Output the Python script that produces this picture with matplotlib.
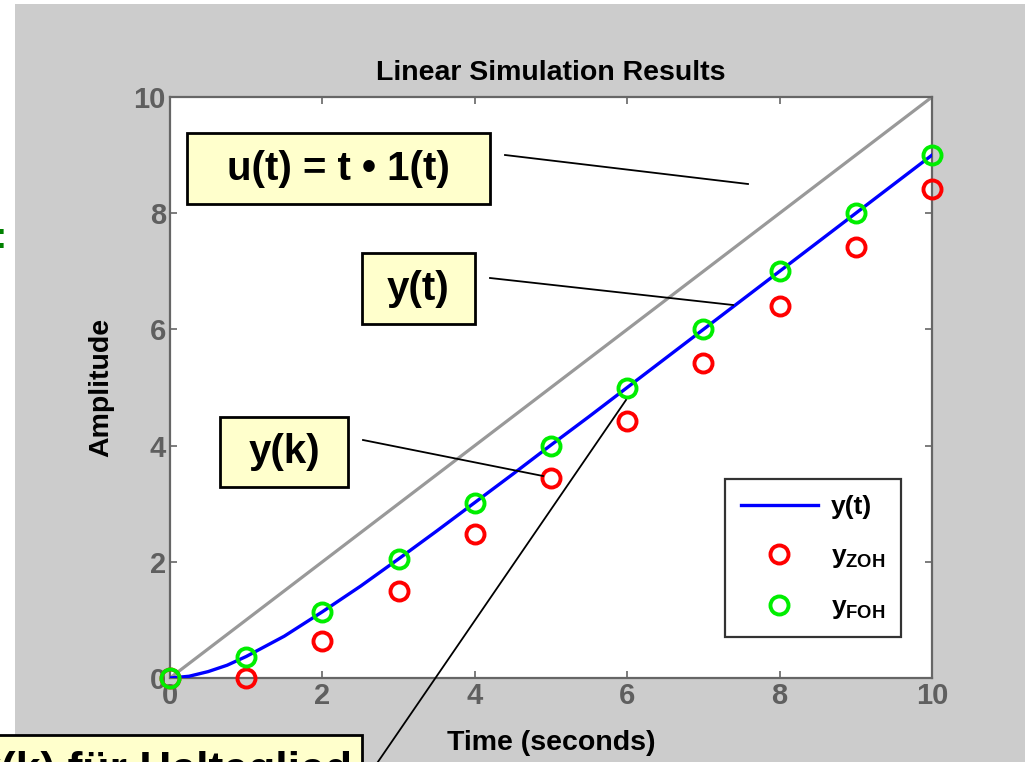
import matplotlib
matplotlib.use("Agg")
import matplotlib.pyplot as plt
from matplotlib.patches import Rectangle

plt.rcParams['font.family'] = ['Liberation Sans', 'DejaVu Sans']
plt.rcParams['font.weight'] = 'bold'
plt.rcParams['mathtext.fontset'] = 'custom'
plt.rcParams['mathtext.rm'] = 'Liberation Sans:bold'
plt.rcParams['mathtext.it'] = 'Liberation Sans:bold'
plt.rcParams['mathtext.bf'] = 'Liberation Sans:bold'

# data
t_cont = [0, 0.25, 0.5, 0.75, 1, 1.5, 2, 2.5, 3, 3.5, 4, 4.5, 5, 5.5, 6, 6.5, 7, 7.5, 8, 8.5, 9, 9.5, 10]
y_cont = [0, 0.03, 0.11, 0.22, 0.37, 0.72, 1.14, 1.58, 2.05, 2.53, 3.02, 3.51, 4.01,
          4.5, 5.0, 5.5, 6.0, 6.5, 7.0, 7.5, 8.0, 8.5, 9.0]
t_u = [0, 1, 2, 3, 4, 5, 6, 7, 8, 9, 10]
u = [0, 1, 2, 3, 4, 5, 6, 7, 8, 9, 10]
k = [0, 1, 2, 3, 4, 5, 6, 7, 8, 9, 10]
y_zoh = [0, 0, 0.64, 1.50, 2.47, 3.44, 4.42, 5.42, 6.41, 7.41, 8.41]
y_foh = [0, 0.37, 1.14, 2.05, 3.02, 4.0, 5.0, 6.0, 7.0, 8.0, 9.0]
ticks = [0, 2, 4, 6, 8, 10]

W, H = 1025, 762
fig = plt.figure(figsize=(W / 100, H / 100), dpi=100, facecolor='white')


def fx(px):
    return px / W


def fy(py):
    return 1 - py / H


# gray slide background
fig.patches.append(Rectangle((fx(15), 0), 1, fy(4), transform=fig.transFigure,
                             fc='#cccccc', ec='none', zorder=-10))

ax = fig.add_axes([fx(170), fy(678), fx(932) - fx(170), fy(97) - fy(678)])
ax.plot(t_u, u, color='#999999', lw=2.3, zorder=2)
ax.plot(t_cont, y_cont, color='#0000ff', lw=2.4, label='y(t)', zorder=3)
ax.plot(k, y_zoh, 'o', ms=13, mfc='none', mec='#ff0000', mew=2.8, label=r'$y_{ZOH}$',
        clip_on=False, zorder=4)
ax.plot(k, y_foh, 'o', ms=13, mfc='none', mec='#00ee00', mew=2.8, label=r'$y_{FOH}$',
        clip_on=False, zorder=5)

ax.set_xlim(0, 10)
ax.set_ylim(0, 10)
ax.set_xticks(ticks)
ax.set_yticks(ticks)
for s in ax.spines.values():
    s.set_color('#666666')
    s.set_linewidth(1.6)
ax.tick_params(direction='in', top=True, right=True, length=5, width=1.2, color='#666666',
               labelcolor='#5f5f5f', labelsize=21, pad=3)
ax.set_title('Linear Simulation Results', fontsize=20.5, fontweight='bold', pad=12)
ax.set_xlabel('Time (seconds)', fontsize=20.5, fontweight='bold', labelpad=14)
ax.set_ylabel('Amplitude', fontsize=20.5, fontweight='bold', labelpad=14)

leg = ax.legend(loc='lower right', bbox_to_anchor=(fx(901), fy(637)),
                bbox_transform=fig.transFigure, fontsize=19, frameon=True,
                fancybox=False, edgecolor='black', handlelength=2.9, borderpad=0.6,
                labelspacing=0.95, handletextpad=0.5, borderaxespad=0)
leg.get_frame().set_linewidth(1.6)


def callout(x0, y0, x1, y1, text, size=29):
    fig.patches.append(Rectangle((fx(x0), fy(y1)), fx(x1) - fx(x0), fy(y0) - fy(y1),
                                 transform=fig.transFigure, fc='#ffffcc', ec='black',
                                 lw=2, zorder=20))
    fig.text(fx((x0 + x1) / 2), fy((y0 + y1) / 2), text, ha='center', va='center',
             fontsize=size, fontweight='bold', zorder=21)


callout(187, 133, 490, 204, 'u(t) = t \u2022 1(t)')
callout(362, 253, 475, 324, 'y(t)')
callout(220, 417, 348, 487, 'y(k)')

# pointer lines (figure pixels, y from the top)
lines = [((505, 155), (748, 184)),
         ((490, 278), (733, 305)),
         ((363, 440), (543, 476)),
         ((371, 772), (626, 400))]
for (xa, ya), (xb, yb) in lines:
    fig.add_artist(plt.Line2D([fx(xa), fx(xb)], [fy(ya), fy(yb)], transform=fig.transFigure,
                              color='black', lw=1.3, zorder=15))

# cut-off box at the bottom of the slide
fig.patches.append(Rectangle((fx(-20), fy(800)), fx(362) + fx(20), fy(735) - fy(800),
                             transform=fig.transFigure, fc='#ffffcc', ec='black',
                             lw=2, zorder=20))
fig.text(fx(352), fy(751), 'y(k) f\u00fcr Halteglied', ha='right', va='top',
         fontsize=32, fontweight='bold', zorder=21)
fig.text(fx(1), fy(238), ':', ha='center', va='center', fontsize=26, fontweight='bold',
         color='#008000')

fig.savefig('out.png', dpi=100, facecolor='white')
